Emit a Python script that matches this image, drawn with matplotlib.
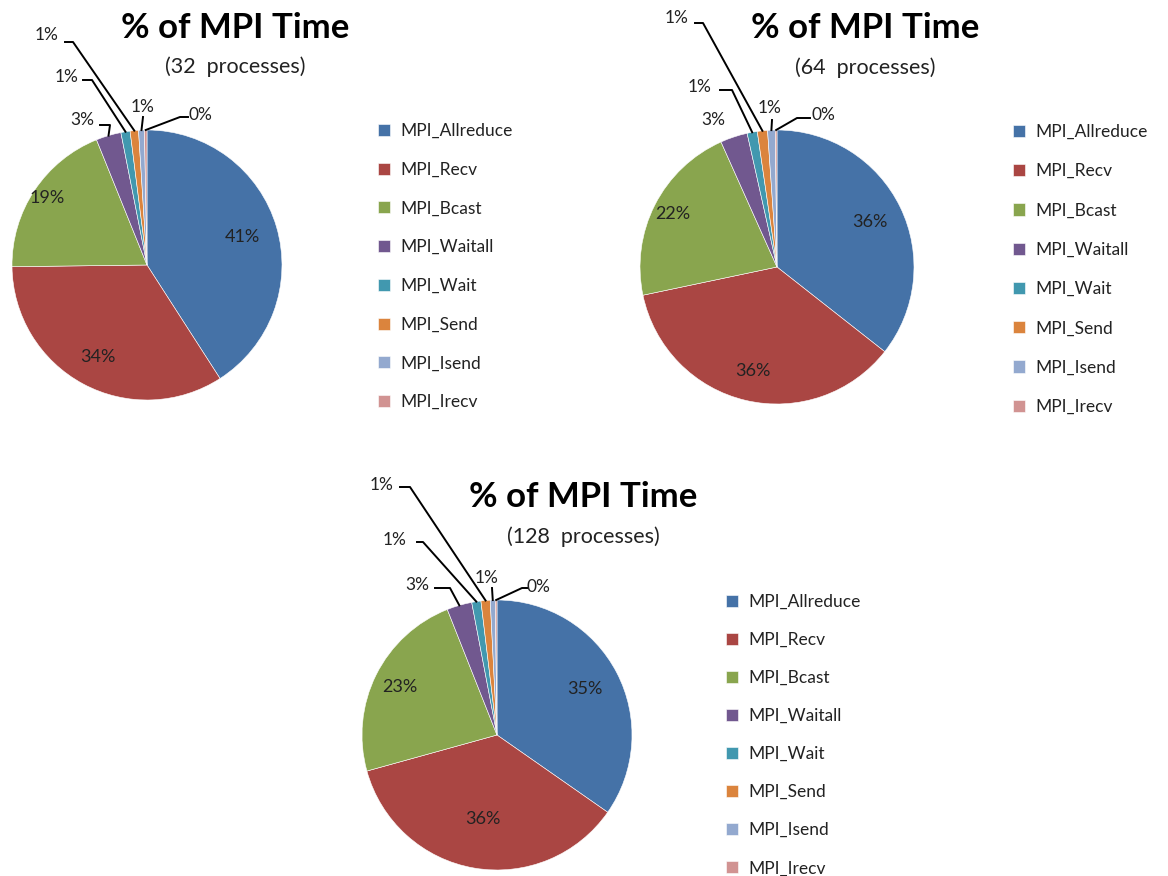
import numpy as np
import matplotlib
matplotlib.use('Agg')
import matplotlib.pyplot as plt

plt.rcParams['font.family'] = ['Lato', 'DejaVu Sans']

# data
names = ['MPI_Allreduce', 'MPI_Recv', 'MPI_Bcast', 'MPI_Waitall',
         'MPI_Wait', 'MPI_Send', 'MPI_Isend', 'MPI_Irecv']
colors = ['#4572A7', '#AA4643', '#89A54E', '#71588F',
          '#4198AF', '#DB843D', '#93A9CF', '#D19392']
procs = [32, 64, 128]
share_32 = [40.9, 33.9, 19.1, 3.0, 1.1, 1.0, 0.7, 0.3]
share_64 = [35.6, 36.1, 21.6, 3.2, 1.2, 1.2, 0.9, 0.2]
share_128 = [34.7, 36.0, 23.3, 3.0, 1.1, 1.1, 0.6, 0.2]

W, H = 1168, 876

# layout (pixels): pie centre, radius, title centre, legend anchor
layouts = [
    dict(c=(147, 265), r=135, title=(235, 28), sub=(235, 67), leg=(378, 123),
         lsp=1.31, big=[0.74, 0.77, 0.89],
         small=[((82, 120), [(100, 125), (110, 125)]),
                ((67, 77), [(83, 80), (92, 80)]),
                ((47, 35), [(65, 42), (73, 42)]),
                ((143, 107), [(143, 117)]),
                ((200, 115), [(188, 117), (180, 117)])]),
    dict(c=(777, 267), r=137, title=(865, 28), sub=(865, 68), leg=(1013, 124),
         lsp=1.34, big=[0.75, 0.78, 0.85],
         small=[((713, 120), []),
                ((700, 87), [(720, 90), (732, 90)]),
                ((677, 18), [(695, 23), (703, 23)]),
                ((770, 108), [(772, 120)]),
                ((823, 115), [(810, 118), (797, 118)])]),
    dict(c=(497, 735), r=135, title=(583, 497), sub=(583, 537), leg=(726, 594),
         lsp=1.27, big=[0.73, 0.63, 0.80],
         small=[((417, 585), [(435, 588), (450, 588)]),
                ((395, 540), [(417, 542), (423, 542)]),
                ((382, 485), [(400, 487), (410, 487)]),
                ((487, 578), [(492, 588)]),
                ((538, 587), [(528, 588), (522, 588)])]),
]

fig = plt.figure(figsize=(W / 100, H / 100), dpi=100)

for n, vals, lay in zip(procs, [share_32, share_64, share_128], layouts):
    cx, cy = lay['c']
    r = lay['r']
    ax = fig.add_axes([(cx - r) / W, 1 - (cy + r) / H, 2 * r / W, 2 * r / H])
    wedges, _ = ax.pie(vals, colors=colors, startangle=90, counterclock=False,
                       radius=1, wedgeprops=dict(edgecolor='white', linewidth=0.4))
    ax.set_xlim(-1, 1)
    ax.set_ylim(-1, 1)
    ax.set_aspect('equal')

    def to_ax(p):
        return ((p[0] - cx) / r, (cy - p[1]) / r)

    for i, w in enumerate(wedges):
        mid = np.deg2rad((w.theta1 + w.theta2) / 2)
        lab = f'{round(vals[i])}%'
        if i < 3:
            d = lay['big'][i]
            ax.text(d * np.cos(mid), d * np.sin(mid), lab, ha='center',
                    va='center', fontsize=13, color='#222222')
        else:
            tpos, pts = lay['small'][i - 3]
            tx, ty = to_ax(tpos)
            ax.text(tx, ty, lab, ha='center', va='center', fontsize=12.5,
                    color='#222222', clip_on=False)
            if pts:
                line = [to_ax(p) for p in pts] + [(np.cos(mid), np.sin(mid))]
                xs, ys = zip(*line)
                ax.plot(xs, ys, color='black', lw=1.4, clip_on=False)

    fig.text(lay['title'][0] / W, 1 - lay['title'][1] / H, '% of MPI Time',
             ha='center', va='center', fontsize=25, fontweight='bold')
    fig.text(lay['sub'][0] / W, 1 - lay['sub'][1] / H, f'({n}  processes)',
             ha='center', va='center', fontsize=15.5, color='#222222')

    fig.legend(wedges, names, loc='upper left', frameon=False,
               bbox_to_anchor=(lay['leg'][0] / W, 1 - lay['leg'][1] / H),
               fontsize=12.5, handlelength=0.7, handleheight=0.7,
               handletextpad=0.6, labelspacing=lay['lsp'], borderpad=0,
               borderaxespad=0, labelcolor='#222222')

fig.savefig('out.png', dpi=100)
